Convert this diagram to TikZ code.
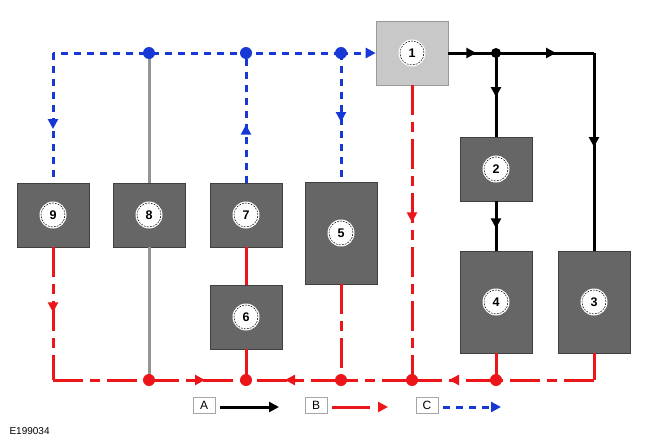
\documentclass[tikz,border=0pt]{standalone}
\usepackage{fontspec}
\setmainfont{Liberation Sans}
\usetikzlibrary{positioning,calc,arrows.meta,decorations.markings}

\definecolor{flowred}{RGB}{236,22,26}
\definecolor{flowblue}{RGB}{24,56,214}
\definecolor{unitgray}{RGB}{102,102,102}
\definecolor{mastergray}{RGB}{200,200,200}

\begin{document}
\begin{tikzpicture}[x=1pt,y=-1pt,
	unit/.style={draw=black!75, line width=0.6pt, fill=unitgray, minimum width=72pt, minimum height=64pt, inner sep=0pt},
	tallunit/.style={unit, minimum height=102pt},
	master/.style={unit, fill=mastergray, draw=black!40},
	num/.style={circle, fill=white, minimum size=27pt, inner sep=0pt, font=\bfseries\fontsize{12.5}{12.5}\selectfont,
		path picture={\draw[black, line width=0.5pt, dash pattern=on 1.8pt off 1.2pt] (path picture bounding box.center) circle (12pt);}},
	key/.style={draw=black!35, fill=white, minimum width=22pt, minimum height=16pt, inner sep=0pt, font=\fontsize{12}{12}\selectfont},
	flow/.style={black, line width=3pt},
	redflow/.style={flowred, line width=3pt, dash pattern=on 30pt off 7pt on 10pt off 7pt},
	redsolid/.style={flowred, line width=3pt},
	blueflow/.style={flowblue, line width=3pt, dash pattern=on 7pt off 6pt},
	grayline/.style={black!42, line width=3pt},
	tip/.style={-{Triangle[length=10pt,width=10pt]}},
	midarrow/.style={postaction={decorate, decoration={markings, mark=at position #1 with {\arrow{Triangle[length=10pt,width=10pt]}}}}}
	]
	\useasboundingbox (0,0) rectangle (672,442);

	% units
	\node[master, label={[num]center:1}] (u1) at (412,53) {};
	\node[unit, label={[num]center:2}] (u2) at (496,169) {};
	\node[tallunit, label={[num]center:3}] (u3) at (594,302) {};
	\node[tallunit, label={[num]center:4}] (u4) at (496,302) {};
	\node[tallunit, label={[num]center:5}] (u5) at (341,233) {};
	\node[unit, label={[num]center:6}] (u6) at (246,317) {};
	\node[unit, label={[num]center:7}] (u7) at (246,215) {};
	\node[unit, label={[num]center:8}] (u8) at (149,215) {};
	\node[unit, label={[num]center:9}] (u9) at (53,215) {};

	% junctions
	\coordinate (tl) at (53,53);
	\coordinate (b8) at (149,53);
	\coordinate (b7) at (246,53);
	\coordinate (b5) at (341,53);
	\coordinate (k) at (496,53);
	\coordinate (kr) at (594,53);
	\coordinate (rl) at (53,380);
	\coordinate (r8) at (149,380);
	\coordinate (r7) at (246,380);
	\coordinate (r5) at (341,380);
	\coordinate (r1) at (412,380);
	\coordinate (r4) at (496,380);
	\coordinate (rr) at (594,380);

	% gray link
	\draw[grayline] (b8) -- (u8.north);
	\draw[grayline] (u8.south) -- (r8);

	% blue
	\draw[blueflow] (b5) -- (tl);
	\draw[blueflow, midarrow=76pt] (tl) -- (u9.north);
	\draw[blueflow, midarrow=58pt] (u7.north) -- (b7);
	\draw[blueflow, midarrow=69pt] (b5) -- (u5.north);
	\draw[blueflow, tip] (b5) -- (u1.west);

	% black
	\draw[flow, midarrow=28pt] (u1.east) -- (k);
	\draw[flow, midarrow=60pt] (k) -- (kr);
	\draw[flow, midarrow=94pt] (kr) -- (u3.north);
	\draw[flow, midarrow=44pt] (k) -- (u2.north);
	\draw[flow, midarrow=27pt] (u2.south) -- (u4.north);

	% red
	\draw[redflow, midarrow=65pt] (u9.south) -- (rl);
	\draw[redflow] (rl) -- (r8);
	\draw[redflow, midarrow=56pt] (r8) -- (r7);
	\draw[redflow, midarrow=56pt] (r5) -- (r7);
	\draw[redflow] (r1) -- (r5);
	\draw[redflow, midarrow=47pt] (r4) -- (r1);
	\draw[redflow] (rr) -- (r4);
	\draw[redflow] (u3.south) -- (rr);
	\draw[redflow, midarrow=137pt] (u1.south) -- (r1);
	\draw[redflow] (u5.south) -- (r5);
	\draw[redsolid] (u7.south) -- (u6.north);
	\draw[redsolid] (u6.south) -- (r7);
	\draw[redsolid] (u4.south) -- (r4);

	% dots
	\foreach \j in {b8,b7,b5} \fill[flowblue] (\j) circle (6pt);
	\foreach \j in {r8,r7,r5,r1,r4} \fill[flowred] (\j) circle (6pt);
	\fill[black] (k) circle (5pt);

	% legend
	\node[key] (ka) at (204,405) {A};
	\node[key] (kb) at (316,405) {B};
	\node[key] (kc) at (427,405) {C};
	\coordinate (ea) at (279,407);
	\coordinate (eb) at (388,407);
	\coordinate (ec) at (501,407);
	\draw[flow, tip] ([xshift=5pt]ka.east |- ea) -- (ea);
	\draw[flowred, line width=3pt, dash pattern=on 38pt off 20pt, tip] ([xshift=5pt]kb.east |- eb) -- (eb);
	\draw[blueflow, tip] ([xshift=5pt]kc.east |- ec) -- (ec);

	\node[anchor=west, font=\fontsize{10}{10}\selectfont] (code) at (6,431) {E199034};
\end{tikzpicture}
\end{document}
